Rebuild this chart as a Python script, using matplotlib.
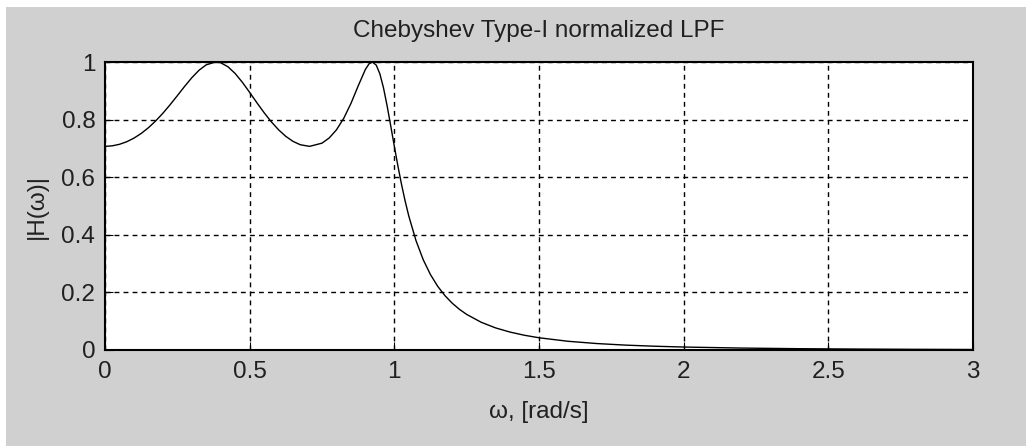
import matplotlib
matplotlib.use('Agg')
import matplotlib.pyplot as plt
from matplotlib.patches import Rectangle

# |H(w)|
w = [0.0, 0.025, 0.05, 0.075, 0.1, 0.125, 0.15, 0.175, 0.2, 0.225, 0.25,
     0.275, 0.3, 0.325, 0.35, 0.3827, 0.4, 0.425, 0.45, 0.475, 0.5, 0.525,
     0.55, 0.575, 0.6, 0.625, 0.65, 0.675, 0.7071, 0.75, 0.775, 0.8, 0.825,
     0.85, 0.875, 0.9, 0.9125, 0.9239, 0.9375, 0.95, 0.9625, 0.975, 0.9875,
     1.0, 1.0125, 1.025, 1.0375, 1.05, 1.075, 1.1, 1.125, 1.15, 1.175, 1.2,
     1.225, 1.25, 1.3, 1.35, 1.4, 1.45, 1.5, 1.6, 1.7, 1.8, 1.9, 2.0, 2.2,
     2.4, 2.6, 2.8, 3.0]
H = [0.7071, 0.7089, 0.7142, 0.7231, 0.7356, 0.7518, 0.7717, 0.7952, 0.8220,
     0.8516, 0.8831, 0.9151, 0.9454, 0.9714, 0.9903, 1.0, 0.9972, 0.9835,
     0.9599, 0.9292, 0.8944, 0.8585, 0.8239, 0.7921, 0.7645, 0.7417, 0.7243,
     0.7127, 0.7071, 0.7182, 0.7363, 0.7645, 0.8042, 0.8560, 0.9168, 0.9743,
     0.9935, 1.0, 0.9891, 0.9589, 0.9104, 0.848, 0.7785, 0.7071, 0.6382,
     0.5743, 0.5165, 0.4650, 0.3794, 0.3131, 0.2616, 0.2210, 0.1887, 0.1626,
     0.1412, 0.1236, 0.0964, 0.0767, 0.0622, 0.0511, 0.0425, 0.0303, 0.0224,
     0.0169, 0.0131, 0.0103, 0.0067, 0.0045, 0.0032, 0.0023, 0.0017]

xticks = [0, 0.5, 1, 1.5, 2, 2.5, 3]
xticklabels = ['0', '0.5', '1', '1.5', '2', '2.5', '3']
yticks = [0, 0.2, 0.4, 0.6, 0.8, 1]
yticklabels = ['0', '0.2', '0.4', '0.6', '0.8', '1']

plt.rcParams['font.family'] = ['Liberation Sans', 'DejaVu Sans']
plt.rcParams['font.size'] = 17.5

bg = '#d0d0d0'
txt = '#202020'
fig = plt.figure(figsize=(10.26, 4.46), dpi=100, facecolor='white')
fig.patches.append(Rectangle((6 / 1026, 0), 1, 1 - 7 / 446, transform=fig.transFigure,
                             facecolor=bg, edgecolor='none', zorder=-10))

ax = fig.add_axes([105 / 1026, 1 - 350 / 446, 868 / 1026, 288 / 446])
ax.plot(w, H, color='black', linewidth=1)
ax.set_xlim(0, 3)
ax.set_ylim(0, 1)
ax.set_xticks(xticks)
ax.set_xticklabels(xticklabels)
ax.set_yticks(yticks)
ax.set_yticklabels(yticklabels)
ax.tick_params(direction='in', length=6, color='black', labelcolor=txt)
ax.tick_params(axis='x', pad=8)
ax.tick_params(axis='y', pad=7)
ax.grid(True, color='black', linestyle=(0, (3.5, 3)), linewidth=1)
for s in ax.spines.values():
    s.set_linewidth(1.5)

ax.set_title('Chebyshev Type-I normalized LPF', fontsize=17.5, color=txt, pad=18)
ax.set_xlabel('ω, [rad/s]', fontsize=17.5, color=txt)
ax.set_ylabel('|H(ω)|', fontsize=17.5, color=txt)
ax.xaxis.set_label_coords(0.5, -0.178)
ax.yaxis.set_label_coords(-0.066, 0.5)

fig.savefig('out.png', dpi=100, facecolor=fig.get_facecolor())
